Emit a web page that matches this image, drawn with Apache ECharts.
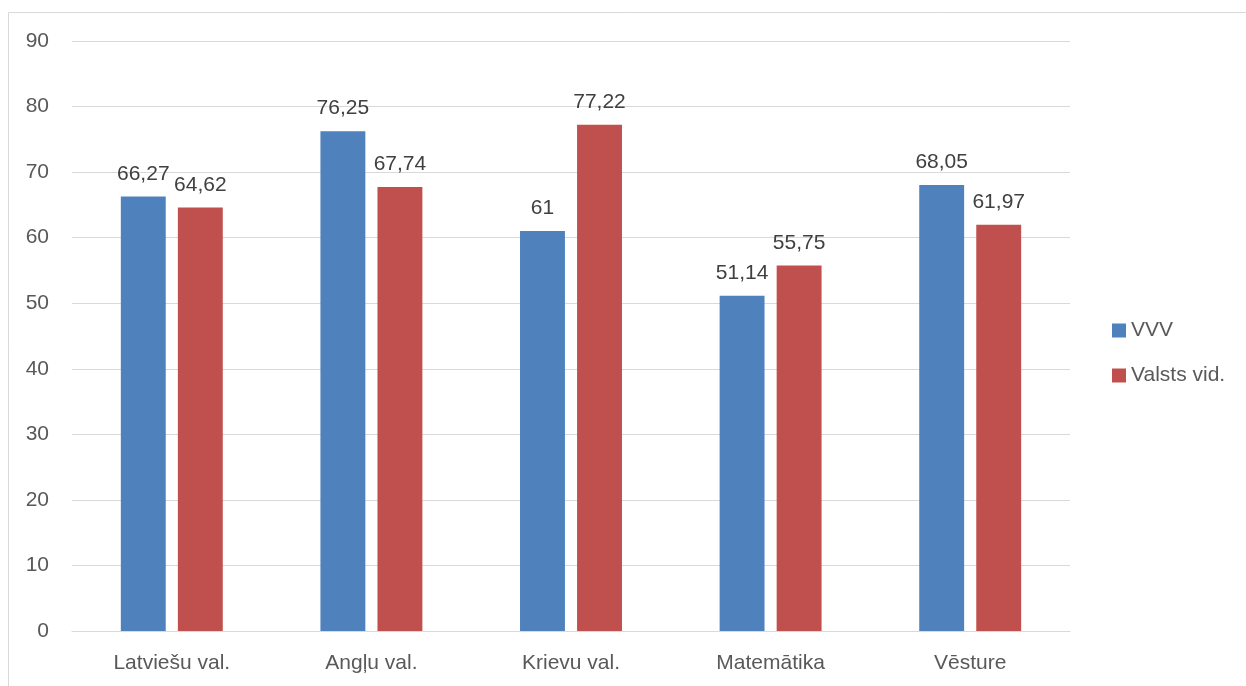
<!DOCTYPE html>
<html>
<head>
<meta charset="utf-8">
<script src="https://cdn.jsdelivr.net/npm/echarts@6/dist/echarts.min.js"></script>
<style>
html,body{margin:0;padding:0;background:#fff;}
#c{width:1246px;height:686px;}
</style>
</head>
<body>
<div id="c"></div>
<script>
const categories = ['Latviešu val.', 'Angļu val.', 'Krievu val.', 'Matemātika', 'Vēsture'];
const seriesNames = ['VVV', 'Valsts vid.'];
const vvvValues = [66.27, 76.25, 61, 51.14, 68.05];
const valstsValues = [64.62, 67.74, 77.22, 55.75, 61.97];
const yTicks = [0, 10, 20, 30, 40, 50, 60, 70, 80, 90];

const FONT = 'Liberation Sans';
const chart = echarts.init(document.getElementById('c'), null, {renderer: 'canvas'});
const fmt = p => String(p.value).replace('.', ',');
const labelCfg = {
  show: true, position: 'top', distance: 12,
  color: '#404040', fontSize: 21, fontFamily: FONT, formatter: fmt
};
chart.setOption({
  animation: false,
  backgroundColor: '#fff',
  graphic: [{
    type: 'rect', shape: {x: 8.5, y: 12.5, width: 1260, height: 700},
    style: {fill: 'none', stroke: '#d9d9d9', lineWidth: 1}, silent: true
  }],
  grid: {left: 72, right: 176, top: 41, bottom: 55, containLabel: false},
  legend: {
    orient: 'vertical', left: 1112, top: 320, padding: 0, itemWidth: 14, itemHeight: 14, itemGap: 24,
    icon: 'rect',
    textStyle: {color: '#595959', fontSize: 21, fontFamily: FONT},
    data: seriesNames
  },
  xAxis: {
    type: 'category', data: categories,
    axisLine: {lineStyle: {color: '#d9d9d9', width: 1}},
    axisTick: {show: false},
    axisLabel: {color: '#595959', fontSize: 21, fontFamily: FONT, margin: 22}
  },
  yAxis: {
    type: 'value', min: yTicks[0], max: yTicks[yTicks.length - 1], interval: 10,
    axisLine: {show: false}, axisTick: {show: false},
    splitLine: {lineStyle: {color: '#d9d9d9', width: 1}},
    axisLabel: {color: '#595959', fontSize: 21, fontFamily: FONT, margin: 23}
  },
  series: [
    {name: seriesNames[0], type: 'bar', data: vvvValues, barWidth: '22.5%', barGap: '27%',
     itemStyle: {color: '#4f81bd'}, label: labelCfg},
    {name: seriesNames[1], type: 'bar', data: valstsValues, barWidth: '22.5%', barGap: '27%',
     itemStyle: {color: '#c0504d'}, label: labelCfg}
  ]
});
</script>
</body>
</html>
